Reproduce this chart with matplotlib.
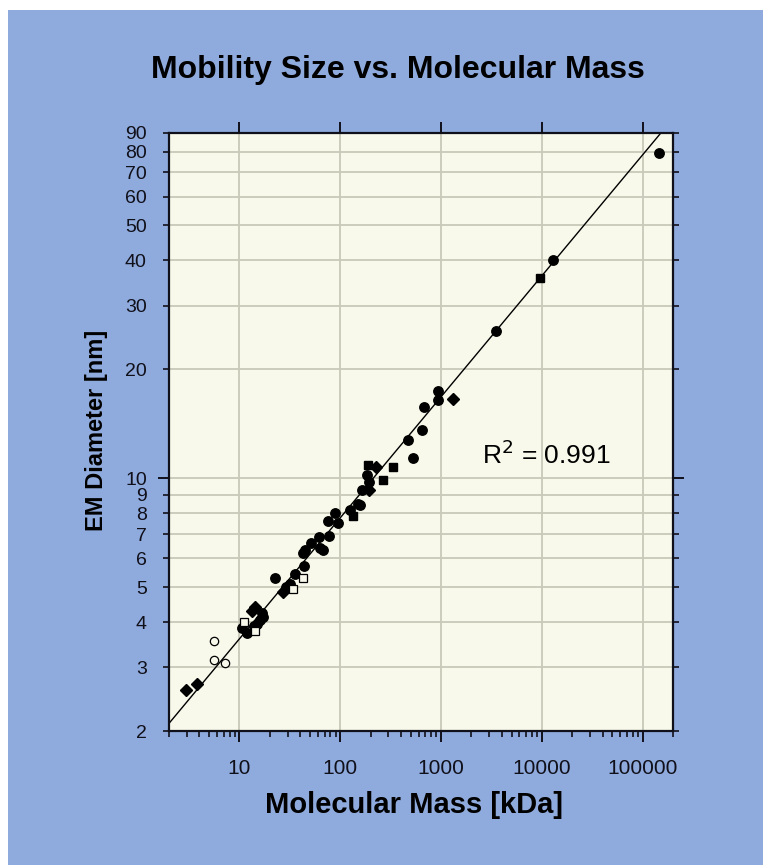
# Mobility size vs molecular mass (log-log scatter with power-law trendline)
import matplotlib
matplotlib.use("Agg")
import matplotlib.pyplot as plt
from matplotlib.patches import Rectangle
from matplotlib.ticker import FixedLocator, NullFormatter, LogLocator
import numpy as np

# data (kDa, nm)
circle_x = [10.6, 12.0, 13.9, 14.9, 16.1, 17.1, 16.7, 22.7, 28.9, 32.0, 35.4, 43.6, 42.3, 45.0,
            51.2, 62.0, 77.8, 63.4, 67.2, 75.5, 89.1, 94.7, 125.6, 149.5, 156, 164, 195, 183,
            532, 468, 654, 673, 925, 925, 3504, 12940, 144900]
circle_y = [3.85, 3.74, 3.90, 3.96, 4.06, 4.13, 4.23, 5.29, 5.00, 5.10, 5.42, 5.72, 6.22, 6.33,
            6.60, 6.89, 6.90, 6.40, 6.33, 7.60, 8.00, 7.53, 8.15, 8.49, 8.44, 9.28, 9.74, 10.2,
            11.39, 12.75, 13.56, 15.7, 17.42, 16.45, 25.5, 40.1, 79.1]
diamond_x = [2.92, 3.8, 13.3, 14.2, 27.0, 193.5, 227, 1325]
diamond_y = [2.60, 2.69, 4.30, 4.40, 4.85, 9.28, 10.76, 16.59]
square_x = [132.5, 187, 264, 331, 9680]
square_y = [7.88, 10.88, 9.89, 10.76, 35.8]
open_square_x = [11.0, 14.2, 34.0, 43.0]
open_square_y = [4.01, 3.79, 4.94, 5.30]
open_circle_x = [5.57, 5.57, 7.15]
open_circle_y = [3.55, 3.14, 3.08]

# power trendline y = a * x^b
trend_a = 1.665
trend_b = 0.3345
r2_text = "R$^2$ = 0.991"

y_ticks = [2, 3, 4, 5, 6, 7, 8, 9, 10, 20, 30, 40, 50, 60, 70, 80, 90]
x_ticks = [10, 100, 1000, 10000, 100000]

blue = "#8FAADC"
cream = "#F8F9EA"
grid_c = "#C9C9BA"
narrow = ["Liberation Sans Narrow", "Liberation Sans", "DejaVu Sans"]
plt.rcParams["font.family"] = ["Liberation Sans", "DejaVu Sans"]

fig = plt.figure(figsize=(7.63, 8.65), dpi=100, facecolor="white")
fig.patches.append(Rectangle((8 / 763, 0), 1, 1 - 10 / 865, transform=fig.transFigure,
                             facecolor=blue, edgecolor="none", zorder=-1))

ax = fig.add_axes([169 / 763, 1 - 731 / 865, (673 - 169) / 763, (731 - 133) / 865])
ax.set_facecolor(cream)
ax.set_xscale("log")
ax.set_yscale("log")
ax.set_xlim(2, 200000)
ax.set_ylim(2, 90)

# grid
for v in x_ticks:
    ax.axvline(v, color=grid_c, lw=1.3, zorder=0)
for v in y_ticks:
    ax.axhline(v, color=grid_c, lw=1.3, zorder=0)

# trendline
xt = np.array([2, 200000])
ax.plot(xt, trend_a * xt ** trend_b, color="black", lw=1.0, zorder=2)

ms = 6.8
ax.plot(circle_x, circle_y, "o", color="black", ms=ms, ls="none", zorder=3)
ax.plot(diamond_x, diamond_y, "D", color="black", ms=ms - 0.3, ls="none", zorder=3)
ax.plot(square_x, square_y, "s", color="black", ms=ms - 0.5, ls="none", zorder=3)
ax.plot(open_square_x, open_square_y, "s", mfc=cream, mec="black", mew=0.9,
        ms=ms - 0.5, ls="none", zorder=3)
ax.plot(open_circle_x, open_circle_y, "o", mfc=cream, mec="black", mew=0.9,
        ms=ms - 0.8, ls="none", zorder=3)

ax.text(11000, 11.6, r2_text, fontsize=19, ha="center", va="center")

# spines
for s in ax.spines.values():
    s.set_color("#10101a")
    s.set_linewidth(1.6)

# x axis ticks
ax.xaxis.set_major_locator(FixedLocator(x_ticks))
ax.xaxis.set_minor_locator(LogLocator(base=10, subs=np.arange(2, 10), numticks=20))
ax.xaxis.set_minor_formatter(NullFormatter())
ax.set_xticklabels([str(v) for v in x_ticks])
ax.tick_params(axis="x", which="major", direction="out", length=8, width=1.4,
               labelsize=15, pad=12, top=True, bottom=True, colors="#10101a")
ax.tick_params(axis="x", which="minor", direction="out", length=4, width=1.2,
               top=False, bottom=True, colors="#10101a")

# y axis ticks
ax.yaxis.set_major_locator(FixedLocator([10]))
ax.yaxis.set_minor_locator(FixedLocator([v for v in y_ticks if v != 10]))
ax.yaxis.set_major_formatter(plt.FuncFormatter(lambda v, p: "%d" % v))
ax.yaxis.set_minor_formatter(plt.FuncFormatter(lambda v, p: "%d" % v))
ax.tick_params(axis="y", which="major", direction="out", length=8, width=1.4,
               labelsize=14, pad=8, left=True, right=True, colors="#10101a")
ax.tick_params(axis="y", which="minor", direction="out", length=4, width=1.2,
               labelsize=14, pad=12, left=True, right=True, colors="#10101a")

fig.text(0.521, 0.919, "Mobility Size vs. Molecular Mass", fontsize=23, fontweight="bold",
         family=narrow, ha="center", va="center")
fig.text(0.543, 0.069, "Molecular Mass [kDa]", fontsize=21, fontweight="bold",
         family=narrow, ha="center", va="center")
fig.text(0.127, 0.503, "EM Diameter [nm]", fontsize=17, fontweight="bold",
         family=narrow, ha="center", va="center", rotation=90)

fig.savefig("out.png", dpi=100, facecolor=fig.get_facecolor())
